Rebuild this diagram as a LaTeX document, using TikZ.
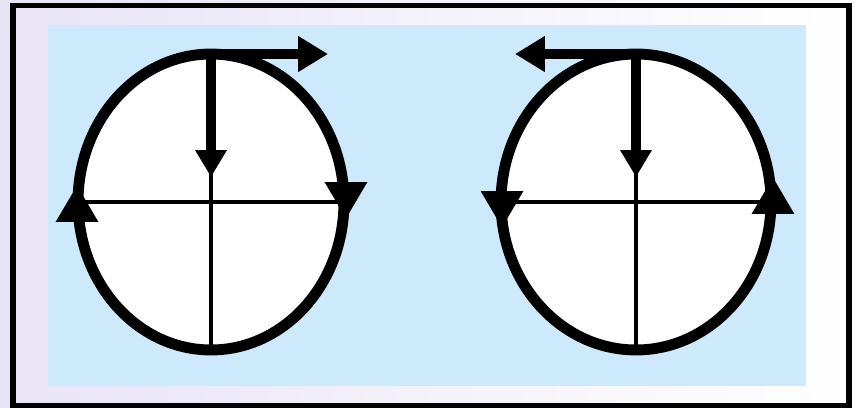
\documentclass[tikz,border=0pt]{standalone}
\usetikzlibrary{arrows.meta,shapes.geometric}
\definecolor{lavender}{HTML}{E8E4F5}
\definecolor{skyblue}{HTML}{CCEAFB}
\tikzset{
  frame/.style={draw=black,line width=3.4pt},
  panel/.style={fill=skyblue},
  ring/.style={ellipse,draw=black,fill=white,line width=6.2pt,inner sep=0pt,outer sep=0pt,minimum width=5.32cm,minimum height=5.92cm},
  ringr/.style={ring,minimum width=5.4cm},
  axis/.style={draw=black,line width=2.4pt},
  arrdown/.style={-{Triangle[length=15.3pt,width=17pt]},draw=black,line width=5.7pt},
  arrtop/.style={-{Triangle[length=17pt,width=19.3pt]},draw=black,line width=6pt},
  arrside/.style={-{Triangle[length=21pt,width=22.7pt]},draw=black,line width=6.2pt}
}
\begin{document}
\begin{tikzpicture}[x=0.02cm,y=-0.02cm]
\shade[left color=lavender,right color=white] (0,0) rectangle (857,408);
\useasboundingbox (0,0) rectangle (857,408);
\draw[frame] (13,5.5) rectangle (848.5,405.5);
\fill[panel] (48,25) rectangle (806,386);

\node[ring] (L) at (211,202) {};
\draw[axis] (L.west) -- (L.east);
\draw[axis] (L.north) -- (L.south);
\draw[arrdown] (L.north) -- ++(0,123);
\draw[arrtop] (L.north) -- ++(117,0);
\draw[arrside] (L.west) ++(-1,20) -- ++(0,-37);
\draw[arrside] (L.east) ++(2,-20) -- ++(0,37);

\node[ringr] (R) at (636,202) {};
\draw[axis] (R.west) -- (R.east);
\draw[axis] (R.north) -- (R.south);
\draw[arrdown] (R.north) -- ++(0,123);
\draw[arrtop] (R.north) -- ++(-121,0);
\draw[arrside] (R.west) ++(1,-11) -- ++(0,37);
\draw[arrside] (R.east) ++(2,12) -- ++(0,-37);
\end{tikzpicture}
\end{document}
